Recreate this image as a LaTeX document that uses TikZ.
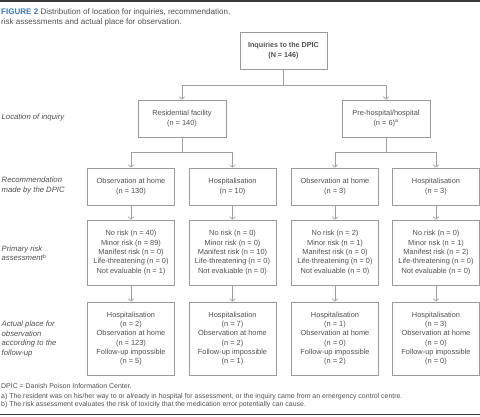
\documentclass[tikz,border=0pt]{standalone}
\usepackage{fontspec}
\setmainfont{Liberation Sans}
\usetikzlibrary{arrows.meta}
\definecolor{linegray}{HTML}{A0A0A0}
\definecolor{boxgray}{HTML}{9A9A9A}
\definecolor{textgray}{HTML}{505050}
\definecolor{capblue}{HTML}{3D7AB8}
\definecolor{rulegray}{HTML}{3A3A3A}
\tikzset{
  flowbox/.style={draw=boxgray, line width=0.6pt, minimum width=87pt, inner sep=0pt,
    align=center, text=textgray, font=\fontsize{7.4}{9.3}\selectfont},
  rowA/.style={flowbox, minimum height=37pt},
  rowB/.style={flowbox, minimum height=65pt},
  rowC/.style={flowbox, minimum height=73pt},
  conn/.style={draw=linegray, line width=0.6pt},
  arr/.style={conn, -{Straight Barb[length=2.6pt,width=5.5pt]}},
  sidelabel/.style={anchor=west, align=left, inner sep=0pt, text=textgray,
    font=\fontsize{7.7}{9.4}\selectfont\itshape},
  plaintext/.style={anchor=west, inner sep=0pt, text=textgray, font=\fontsize{6.95}{9}\selectfont},
}
\begin{document}
\begin{tikzpicture}[x=1pt,y=-1pt]
\useasboundingbox (0,0) rectangle (480,416);
% rules
\draw[rulegray, line width=1.6pt] (0,0.8) -- (480,0.8);
\draw[rulegray, line width=1.3pt] (0,414.3) -- (480,414.3);
% caption
\node[plaintext, font=\fontsize{8.05}{10}\selectfont] (cap1) at (1,12.7)
  {\textcolor{capblue}{\textbf{FIGURE 2}} Distribution of location for inquiries, recommendation,};
\node[plaintext, font=\fontsize{8.05}{10}\selectfont] (cap2) at (1,22.7)
  {risk assessments and actual place for observation.};
% boxes
\node[rowA, font=\fontsize{7.2}{9.3}\selectfont\bfseries] (top) at (283.5,50.5) {Inquiries to the DPIC\\(N = 146)};
\node[rowA, minimum width=88pt] (res) at (182,118.5) {Residential facility\\(n = 140)};
\node[rowA, minimum width=88pt] (pre) at (386,118.5) {Pre-hospital/hospital\\(n = 6)\textsuperscript{a}};
\node[rowA] (r1) at (131,186.5) {Observation at home\\(n = 130)};
\node[rowA] (r2) at (232.5,186.5) {Hospitalisation\\(n = 10)};
\node[rowA] (r3) at (335,186.5) {Observation at home\\(n = 3)};
\node[rowA] (r4) at (436,186.5) {Hospitalisation\\(n = 3)};
\node[rowB] (k1) at (131,252.5) {No risk (n = 40)\\Minor risk (n = 89)\\Manifest risk (n = 0)\\Life-threatening (n = 0)\\Not evaluable (n = 1)};
\node[rowB] (k2) at (232.5,252.5) {No risk (n = 0)\\Minor risk (n = 0)\\Manifest risk (n = 10)\\Life-threatening (n = 0)\\Not evaluable (n = 0)};
\node[rowB] (k3) at (335,252.5) {No risk (n = 2)\\Minor risk (n = 1)\\Manifest risk (n = 0)\\Life-threatening (n = 0)\\Not evaluable (n = 0)};
\node[rowB] (k4) at (436,252.5) {No risk (n = 0)\\Minor risk (n = 1)\\Manifest risk (n = 2)\\Life-threatening (n = 0)\\Not evaluable (n = 0)};
\node[rowC] (p1) at (131,338.5) {Hospitalisation\\(n = 2)\\Observation at home\\(n = 123)\\Follow-up impossible\\(n = 5)};
\node[rowC] (p2) at (232.5,338.5) {Hospitalisation\\(n = 7)\\Observation at home\\(n = 2)\\Follow-up impossible\\(n = 1)};
\node[rowC] (p3) at (335,338.5) {Hospitalisation\\(n = 1)\\Observation at home\\(n = 0)\\Follow-up impossible\\(n = 2)};
\node[rowC] (p4) at (436,338.5) {Hospitalisation\\(n = 3)\\Observation at home\\(n = 0)\\Follow-up impossible\\(n = 0)};
% connectors
\coordinate (s0) at (283.5,85);
\coordinate (s1) at (182,152);
\coordinate (s2) at (386,152);
\draw[conn] (top) -- (s0);
\draw[arr] (s0) -| (res);
\draw[arr] (s0) -| (pre);
\draw[conn] (res) -- (s1);
\draw[arr] (s1) -| (r1);
\draw[arr] (s1) -| (r2);
\draw[conn] (pre) -- (s2);
\draw[arr] (s2) -| (r3);
\draw[arr] (s2) -| (r4);
\foreach \i in {1,2,3,4}{
  \draw[arr] (r\i) -- (k\i);
  \draw[arr] (k\i) -- (p\i);
}
% side labels
\node[sidelabel] (l1) at (1.5,118) {Location of inquiry};
\node[sidelabel] (l2) at (1.5,185.5) {Recommendation\\made by the DPIC};
\node[sidelabel] (l3) at (1.5,253.5) {Primary risk\\assessment\textsuperscript{b}};
\node[sidelabel] (l4) at (1.5,339) {Actual place for\\observation\\according to the\\follow-up};
% footnotes
\node[plaintext] (f0) at (1,386) {DPIC = Danish Poison Information Center.};
\node[plaintext] (f1) at (1,396.5) {a) The resident was on his/her way to or already in hospital for assessment, or the inquiry came from an emergency control centre.};
\node[plaintext] (f2) at (1,405) {b) The risk assessment evaluates the risk of toxicity that the medication error potentially can cause.};
\end{tikzpicture}
\end{document}
